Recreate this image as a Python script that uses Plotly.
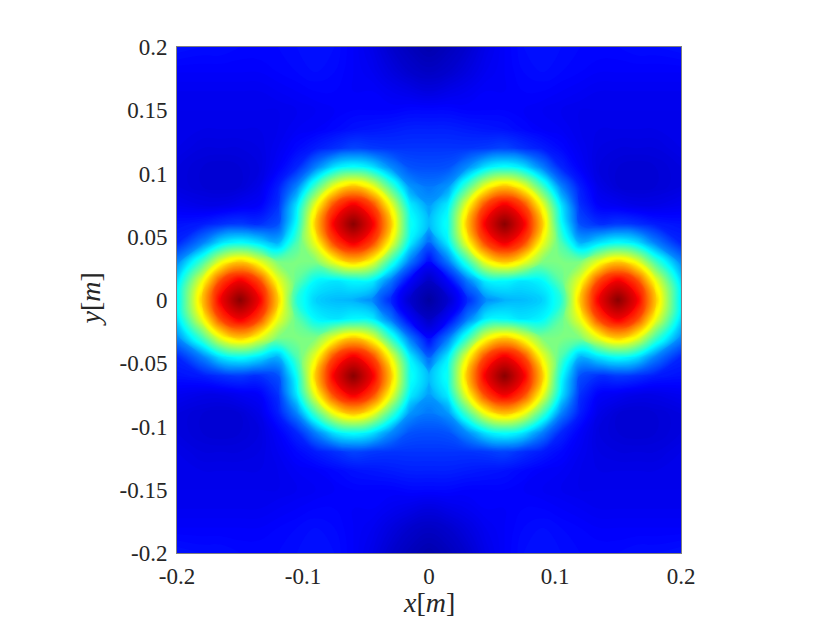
import plotly.graph_objects as go

coords = [-0.2,-0.18,-0.165,-0.15,-0.135,-0.12,-0.105,-0.09,-0.075,-0.06,-0.045,-0.03,-0.015,0,
          0.015,0.03,0.045,0.06,0.075,0.09,0.105,0.12,0.135,0.15,0.165,0.18,0.2]
tick_vals_x = [-0.2,-0.1,0,0.1,0.2]
tick_text_x = ["-0.2","-0.1","0","0.1","0.2"]
tick_vals_y = [-0.2,-0.15,-0.1,-0.05,0,0.05,0.1,0.15,0.2]
tick_text_y = ["-0.2","-0.15","-0.1","-0.05","0","0.05","0.1","0.15","0.2"]
x_title = "<i>x</i>[<i>m</i>]"
y_title = "<i>y</i>[<i>m</i>]"

# intensity, top row (y=+0.2) first
intensity = [
[14,13.5,13.5,13,13,13,13.5,14,13.5,12,10,7,5,3.5,5,7,10,12,13.5,14,13.5,13,13,13,13.5,13.5,14],
[12,12,12,12,12,12.5,13,13.5,13,12,11,9,7,6,7,9,11,12,13,13.5,13,12.5,12,12,12,12,12],
[11,11,11,11,11,11.5,12,12.5,12.5,12,12,11,10,9,10,11,12,12,12.5,12.5,12,11.5,11,11,11,11,11],
[10.5,10.5,10.5,10.5,10.5,10.5,11,11.5,12,12.5,12.5,12.5,13,13,13,12.5,12.5,12.5,12,11.5,11,10.5,10.5,10.5,10.5,10.5,10.5],
[10.5,10,10,10,10,10.5,11.5,12,13,14,14.5,15,15.5,15.5,15.5,15,14.5,14,13,12,11.5,10.5,10,10,10,10,10.5],
[10,9,9,9,9.5,11,13,15,17,19,18,17.5,17.5,17.5,17.5,17.5,18,19,17,15,13,11,9.5,9,9,9,10],
[9,8,7.5,8,9,12,16,25,35,38.5,35,26,20.5,20,20.5,26,35,38.5,35,25,16,12,9,8,7.5,8,9],
[9,8,7.5,8,10,15,25,44,61,68,61,44,27,24,27,44,61,68,61,44,25,15,10,8,7.5,8,9],
[11,10,10,11,12,17,35,61,81,89,81,61,36,28,36,61,81,89,81,61,35,17,12,11,10,10,11],
[14,15,17,18,17,20,38.5,68,89,99,89,68,39,31,39,68,89,99,89,68,38.5,20,17,18,17,15,14],
[16,25,35,38.5,35,30,45,61,81,89,81,61,36,22,36,61,81,89,81,61,45,30,35,38.5,35,25,16],
[26,44,61,68,61,50,50,50,61,68,61,42,24,13,24,42,61,68,61,50,50,50,61,68,61,44,26],
[34,61,81,89,81,61,47,37,35,37,36,24,12,6,12,24,36,37,35,37,47,61,81,89,81,61,34],
[36,68,89,99,89,68,41,33,31,30,26,16,7,2,7,16,26,30,31,33,41,68,89,99,89,68,36],
[34,61,81,89,81,61,47,37,35,37,36,24,12,6,12,24,36,37,35,37,47,61,81,89,81,61,34],
[26,44,61,68,61,50,50,50,61,68,61,42,24,13,24,42,61,68,61,50,50,50,61,68,61,44,26],
[16,25,35,38.5,35,30,45,61,81,89,81,61,36,22,36,61,81,89,81,61,45,30,35,38.5,35,25,16],
[14,15,17,18,17,20,38.5,68,89,99,89,68,39,31,39,68,89,99,89,68,38.5,20,17,18,17,15,14],
[11,10,10,11,12,17,35,61,81,89,81,61,36,28,36,61,81,89,81,61,35,17,12,11,10,10,11],
[9,8,7.5,8,10,15,25,44,61,68,61,44,27,24,27,44,61,68,61,44,25,15,10,8,7.5,8,9],
[9,8,7.5,8,9,12,16,25,35,38.5,35,26,20.5,20,20.5,26,35,38.5,35,25,16,12,9,8,7.5,8,9],
[10,9,9,9,9.5,11,13,15,17,19,18,17.5,17.5,17.5,17.5,17.5,18,19,17,15,13,11,9.5,9,9,9,10],
[10.5,10,10,10,10,10.5,11.5,12,13,14,14.5,15,15.5,15.5,15.5,15,14.5,14,13,12,11.5,10.5,10,10,10,10,10.5],
[10.5,10.5,10.5,10.5,10.5,10.5,11,11.5,12,12.5,12.5,12.5,13,13,13,12.5,12.5,12.5,12,11.5,11,10.5,10.5,10.5,10.5,10.5,10.5],
[11,11,11,11,11,11.5,12,12.5,12.5,12,12,11,10,9,10,11,12,12,12.5,12.5,12,11.5,11,11,11,11,11],
[12,12,12,12,12,12.5,13,13.5,13,12,11,9,7,6,7,9,11,12,13,13.5,13,12.5,12,12,12,12,12],
[14,13.5,13.5,13,13,13,13.5,14,13.5,12,10,7,5,3.5,5,7,10,12,13.5,14,13.5,13,13,13,13.5,13.5,14],
]

jet = [[0,"rgb(0,0,143)"],[0.125,"rgb(0,0,255)"],[0.375,"rgb(0,255,255)"],
       [0.625,"rgb(255,255,0)"],[0.875,"rgb(255,0,0)"],[1,"rgb(128,0,0)"]]

FONT = "Liberation Serif"
INK = "#262626"
fig = go.Figure(go.Contour(x=coords, y=coords[::-1], z=intensity, zmin=0, zmax=100,
                           colorscale=jet, showscale=False,
                           autocontour=False, contours=dict(start=0, end=100, size=0.5, coloring="fill", showlines=False),
                           line=dict(width=0, smoothing=1.3)))
axis = dict(range=[-0.2,0.2], tickmode="array", ticks="", showgrid=False, zeroline=False,
            automargin=False, showline=True, linecolor="#808080", linewidth=1, mirror=True,
            tickfont=dict(family=FONT, size=23, color=INK))
fig.update_layout(width=814, height=615, margin=dict(l=169,r=141,t=39,b=70),
                  paper_bgcolor="white", plot_bgcolor="white", font=dict(family=FONT),
                  xaxis=dict(axis, tickvals=tick_vals_x, ticktext=tick_text_x, ticklabelstandoff=2),
                  yaxis=dict(axis, tickvals=tick_vals_y, ticktext=tick_text_y, ticklabelstandoff=4),
                  annotations=[
                      dict(text=x_title, xref="paper", yref="paper", x=0.5, y=0, yshift=-67, showarrow=False,
                           font=dict(family=FONT,size=28,color=INK)),
                      dict(text=y_title, xref="paper", yref="paper", x=0, y=0.5, xshift=-105, showarrow=False,
                           textangle=-90, font=dict(family=FONT,size=28,color=INK)),
                  ])
fig.write_html("out.html")
